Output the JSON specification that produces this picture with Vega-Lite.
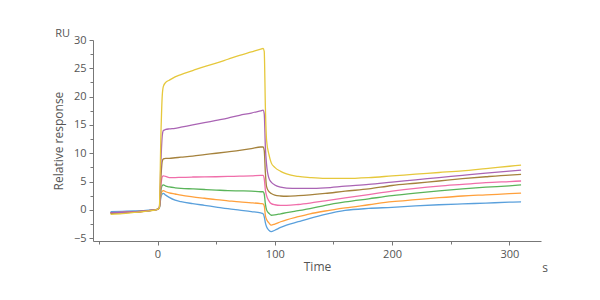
{
  "$schema": "https://vega.github.io/schema/vega-lite/v6.json",
  "autosize": "none",
  "width": 448,
  "height": 201,
  "padding": {"left": 93, "top": 40, "right": 59, "bottom": 59},
  "background": "white",
  "config": {
    "view": {"stroke": null},
    "font": "Open Sans",
    "axis": {"grid": false, "domainColor": "#777", "tickColor": "#777", "labelColor": "#555", "titleColor": "#555", "labelFont": "Open Sans", "titleFont": "Open Sans", "labelFontSize": 11, "titleFontSize": 12, "titleFontWeight": "normal", "tickSize": 4, "labelPadding": 3}
  },
  "resolve": {"axis": {"x": "independent", "y": "independent"}},
  "datasets": {
    "curves": [
      {"t":-40,"s":"a","v":-0.3},{"t":-30,"s":"a","v":-0.25},{"t":-20,"s":"a","v":-0.2},{"t":-10,"s":"a","v":-0.1},{"t":0,"s":"a","v":0.1},{"t":1.5,"s":"a","v":0.3},{"t":3,"s":"a","v":2.3},{"t":4,"s":"a","v":2.8},{"t":5,"s":"a","v":2.9},{"t":7,"s":"a","v":2.6},{"t":10,"s":"a","v":2.2},{"t":15,"s":"a","v":1.7},{"t":20,"s":"a","v":1.45},{"t":30,"s":"a","v":1.1},{"t":40,"s":"a","v":0.8},{"t":50,"s":"a","v":0.5},{"t":60,"s":"a","v":0.2},{"t":70,"s":"a","v":-0.05},{"t":80,"s":"a","v":-0.3},{"t":88,"s":"a","v":-0.55},{"t":90,"s":"a","v":-0.7},{"t":91,"s":"a","v":-1.2},{"t":92,"s":"a","v":-2.3},{"t":93,"s":"a","v":-3.0},{"t":95,"s":"a","v":-3.6},{"t":97,"s":"a","v":-3.85},{"t":100,"s":"a","v":-3.6},{"t":105,"s":"a","v":-3.1},{"t":110,"s":"a","v":-2.7},{"t":120,"s":"a","v":-2.1},{"t":130,"s":"a","v":-1.5},{"t":143,"s":"a","v":-0.8},{"t":160,"s":"a","v":-0.1},{"t":180,"s":"a","v":0.25},{"t":200,"s":"a","v":0.45},{"t":220,"s":"a","v":0.7},{"t":240,"s":"a","v":0.9},{"t":260,"s":"a","v":1.05},{"t":280,"s":"a","v":1.2},{"t":300,"s":"a","v":1.35},{"t":310,"s":"a","v":1.4},
      {"t":-40,"s":"b","v":-0.6},{"t":-30,"s":"b","v":-0.5},{"t":-20,"s":"b","v":-0.4},{"t":-10,"s":"b","v":-0.2},{"t":0,"s":"b","v":0.1},{"t":1.5,"s":"b","v":0.3},{"t":3,"s":"b","v":2.8},{"t":4,"s":"b","v":3.3},{"t":5,"s":"b","v":3.4},{"t":7,"s":"b","v":3.2},{"t":10,"s":"b","v":3.0},{"t":15,"s":"b","v":2.8},{"t":20,"s":"b","v":2.6},{"t":30,"s":"b","v":2.3},{"t":40,"s":"b","v":2.05},{"t":50,"s":"b","v":1.8},{"t":60,"s":"b","v":1.6},{"t":70,"s":"b","v":1.4},{"t":80,"s":"b","v":1.25},{"t":88,"s":"b","v":1.1},{"t":90,"s":"b","v":1.05},{"t":91,"s":"b","v":0.7},{"t":92,"s":"b","v":-1.0},{"t":93,"s":"b","v":-1.7},{"t":95,"s":"b","v":-2.3},{"t":97,"s":"b","v":-2.7},{"t":100,"s":"b","v":-2.5},{"t":105,"s":"b","v":-2.1},{"t":110,"s":"b","v":-1.75},{"t":120,"s":"b","v":-1.2},{"t":130,"s":"b","v":-0.7},{"t":143,"s":"b","v":-0.2},{"t":160,"s":"b","v":0.35},{"t":180,"s":"b","v":0.9},{"t":200,"s":"b","v":1.45},{"t":220,"s":"b","v":1.8},{"t":240,"s":"b","v":2.15},{"t":260,"s":"b","v":2.45},{"t":280,"s":"b","v":2.65},{"t":300,"s":"b","v":2.85},{"t":310,"s":"b","v":2.95},
      {"t":-40,"s":"c","v":-0.5},{"t":-30,"s":"c","v":-0.45},{"t":-20,"s":"c","v":-0.35},{"t":-10,"s":"c","v":-0.2},{"t":0,"s":"c","v":0.1},{"t":1.5,"s":"c","v":0.3},{"t":3,"s":"c","v":3.5},{"t":4,"s":"c","v":4.3},{"t":5,"s":"c","v":4.4},{"t":7,"s":"c","v":4.2},{"t":10,"s":"c","v":4.05},{"t":15,"s":"c","v":3.9},{"t":20,"s":"c","v":3.8},{"t":30,"s":"c","v":3.7},{"t":40,"s":"c","v":3.6},{"t":50,"s":"c","v":3.5},{"t":60,"s":"c","v":3.4},{"t":70,"s":"c","v":3.35},{"t":80,"s":"c","v":3.3},{"t":88,"s":"c","v":3.2},{"t":90,"s":"c","v":3.2},{"t":91,"s":"c","v":2.8},{"t":92,"s":"c","v":1.0},{"t":93,"s":"c","v":0.0},{"t":95,"s":"c","v":-0.6},{"t":97,"s":"c","v":-0.95},{"t":100,"s":"c","v":-0.9},{"t":105,"s":"c","v":-0.7},{"t":110,"s":"c","v":-0.5},{"t":120,"s":"c","v":-0.15},{"t":130,"s":"c","v":0.2},{"t":143,"s":"c","v":0.8},{"t":160,"s":"c","v":1.4},{"t":180,"s":"c","v":1.95},{"t":200,"s":"c","v":2.5},{"t":220,"s":"c","v":2.95},{"t":240,"s":"c","v":3.35},{"t":260,"s":"c","v":3.7},{"t":280,"s":"c","v":4.0},{"t":300,"s":"c","v":4.25},{"t":310,"s":"c","v":4.4},
      {"t":-40,"s":"d","v":-0.5},{"t":-30,"s":"d","v":-0.4},{"t":-20,"s":"d","v":-0.35},{"t":-10,"s":"d","v":-0.2},{"t":0,"s":"d","v":0.1},{"t":1.5,"s":"d","v":0.3},{"t":3,"s":"d","v":4.5},{"t":4,"s":"d","v":5.8},{"t":5,"s":"d","v":6.0},{"t":7,"s":"d","v":5.9},{"t":10,"s":"d","v":5.7},{"t":15,"s":"d","v":5.7},{"t":20,"s":"d","v":5.75},{"t":30,"s":"d","v":5.8},{"t":40,"s":"d","v":5.82},{"t":50,"s":"d","v":5.85},{"t":60,"s":"d","v":5.9},{"t":70,"s":"d","v":5.95},{"t":80,"s":"d","v":6.0},{"t":88,"s":"d","v":6.1},{"t":90,"s":"d","v":6.1},{"t":91,"s":"d","v":5.5},{"t":92,"s":"d","v":3.5},{"t":93,"s":"d","v":2.5},{"t":95,"s":"d","v":1.6},{"t":97,"s":"d","v":1.1},{"t":100,"s":"d","v":0.9},{"t":105,"s":"d","v":0.8},{"t":110,"s":"d","v":0.8},{"t":120,"s":"d","v":0.95},{"t":130,"s":"d","v":1.2},{"t":143,"s":"d","v":1.6},{"t":160,"s":"d","v":2.1},{"t":180,"s":"d","v":2.7},{"t":200,"s":"d","v":3.3},{"t":220,"s":"d","v":3.8},{"t":240,"s":"d","v":4.2},{"t":260,"s":"d","v":4.5},{"t":280,"s":"d","v":4.8},{"t":300,"s":"d","v":5.0},{"t":310,"s":"d","v":5.1},
      {"t":-40,"s":"e","v":-0.6},{"t":-30,"s":"e","v":-0.5},{"t":-20,"s":"e","v":-0.4},{"t":-10,"s":"e","v":-0.2},{"t":0,"s":"e","v":0.1},{"t":1.5,"s":"e","v":0.3},{"t":3,"s":"e","v":6.0},{"t":4,"s":"e","v":8.5},{"t":5,"s":"e","v":9.0},{"t":7,"s":"e","v":9.1},{"t":10,"s":"e","v":9.1},{"t":15,"s":"e","v":9.2},{"t":20,"s":"e","v":9.3},{"t":30,"s":"e","v":9.5},{"t":40,"s":"e","v":9.75},{"t":50,"s":"e","v":10.0},{"t":60,"s":"e","v":10.25},{"t":70,"s":"e","v":10.5},{"t":80,"s":"e","v":10.8},{"t":88,"s":"e","v":11.1},{"t":90,"s":"e","v":11.1},{"t":91,"s":"e","v":10.5},{"t":92,"s":"e","v":6.5},{"t":93,"s":"e","v":4.1},{"t":95,"s":"e","v":3.2},{"t":97,"s":"e","v":2.9},{"t":100,"s":"e","v":2.6},{"t":105,"s":"e","v":2.45},{"t":110,"s":"e","v":2.4},{"t":120,"s":"e","v":2.5},{"t":130,"s":"e","v":2.65},{"t":143,"s":"e","v":2.9},{"t":160,"s":"e","v":3.3},{"t":180,"s":"e","v":3.7},{"t":200,"s":"e","v":4.3},{"t":220,"s":"e","v":4.7},{"t":240,"s":"e","v":5.1},{"t":260,"s":"e","v":5.5},{"t":280,"s":"e","v":5.85},{"t":300,"s":"e","v":6.15},{"t":310,"s":"e","v":6.25},
      {"t":-40,"s":"f","v":-0.5},{"t":-30,"s":"f","v":-0.45},{"t":-20,"s":"f","v":-0.35},{"t":-10,"s":"f","v":-0.2},{"t":0,"s":"f","v":0.1},{"t":1.5,"s":"f","v":0.3},{"t":3,"s":"f","v":9.0},{"t":4,"s":"f","v":13.0},{"t":5,"s":"f","v":14.0},{"t":7,"s":"f","v":14.2},{"t":10,"s":"f","v":14.3},{"t":15,"s":"f","v":14.4},{"t":20,"s":"f","v":14.6},{"t":30,"s":"f","v":15.0},{"t":40,"s":"f","v":15.4},{"t":50,"s":"f","v":15.8},{"t":60,"s":"f","v":16.2},{"t":70,"s":"f","v":16.7},{"t":80,"s":"f","v":17.1},{"t":88,"s":"f","v":17.5},{"t":90,"s":"f","v":17.6},{"t":91,"s":"f","v":17.0},{"t":92,"s":"f","v":11.0},{"t":93,"s":"f","v":8.0},{"t":95,"s":"f","v":5.6},{"t":97,"s":"f","v":4.9},{"t":100,"s":"f","v":4.4},{"t":105,"s":"f","v":4.0},{"t":110,"s":"f","v":3.85},{"t":120,"s":"f","v":3.8},{"t":130,"s":"f","v":3.8},{"t":143,"s":"f","v":3.9},{"t":160,"s":"f","v":4.2},{"t":180,"s":"f","v":4.5},{"t":200,"s":"f","v":4.9},{"t":220,"s":"f","v":5.3},{"t":240,"s":"f","v":5.7},{"t":260,"s":"f","v":6.1},{"t":280,"s":"f","v":6.5},{"t":300,"s":"f","v":6.85},{"t":310,"s":"f","v":7.0},
      {"t":-40,"s":"g","v":-0.8},{"t":-30,"s":"g","v":-0.65},{"t":-20,"s":"g","v":-0.45},{"t":-10,"s":"g","v":-0.25},{"t":0,"s":"g","v":0.1},{"t":1.5,"s":"g","v":0.3},{"t":3,"s":"g","v":14.0},{"t":4,"s":"g","v":20.0},{"t":5,"s":"g","v":21.8},{"t":7,"s":"g","v":22.5},{"t":10,"s":"g","v":22.9},{"t":15,"s":"g","v":23.5},{"t":20,"s":"g","v":23.9},{"t":30,"s":"g","v":24.6},{"t":40,"s":"g","v":25.3},{"t":50,"s":"g","v":25.9},{"t":60,"s":"g","v":26.6},{"t":70,"s":"g","v":27.3},{"t":80,"s":"g","v":27.9},{"t":88,"s":"g","v":28.4},{"t":90,"s":"g","v":28.5},{"t":91,"s":"g","v":28.0},{"t":92,"s":"g","v":18.0},{"t":93,"s":"g","v":12.3},{"t":95,"s":"g","v":9.8},{"t":97,"s":"g","v":8.3},{"t":100,"s":"g","v":7.5},{"t":105,"s":"g","v":6.8},{"t":110,"s":"g","v":6.35},{"t":120,"s":"g","v":5.9},{"t":130,"s":"g","v":5.7},{"t":143,"s":"g","v":5.55},{"t":160,"s":"g","v":5.55},{"t":180,"s":"g","v":5.7},{"t":200,"s":"g","v":6.0},{"t":220,"s":"g","v":6.3},{"t":240,"s":"g","v":6.6},{"t":260,"s":"g","v":6.9},{"t":280,"s":"g","v":7.3},{"t":300,"s":"g","v":7.7},{"t":310,"s":"g","v":7.9}
    ],
    "units": [{"label": "RU", "t": -55, "v": 30}],
    "xunit": [{"label": "s", "t": 327, "v": -5.5}]
  },
  "layer": [
    {
      "data": {"name": "curves"},
      "mark": {"type": "line", "strokeWidth": 1.3, "interpolate": "monotone"},
      "encoding": {
        "x": {"field": "t", "type": "quantitative", "scale": {"domain": [-55, 327], "nice": false, "zero": false},
          "axis": {"title": "Time", "values": [0, 100, 200, 300], "labelOverlap": false, "titlePadding": 2}},
        "y": {"field": "v", "type": "quantitative", "scale": {"domain": [-5.5, 30], "nice": false, "zero": false},
          "axis": {"title": "Relative response", "values": [-5, 0, 5, 10, 15, 20, 25, 30], "labelOverlap": false, "labelFlush": false, "titlePadding": 8}},
        "color": {"field": "s", "type": "nominal", "legend": null,
          "scale": {"domain": ["a", "b", "c", "d", "e", "f", "g"], "range": ["#5aa0dc", "#ffa03c", "#5ab45a", "#f06eaa", "#a5823c", "#aa64b4", "#e6c83c"]}}
      }
    },
    {
      "data": {"name": "units"},
      "mark": {"type": "text", "align": "right", "baseline": "bottom", "dx": -23, "dy": -1, "fontSize": 11, "fill": "#555", "font": "Open Sans", "clip": false},
      "encoding": {"text": {"field": "label"},
        "x": {"field": "t", "type": "quantitative", "axis": {"orient": "bottom", "title": null, "labels": false, "domain": false, "tickSize": 3, "values": [-50, 50, 150, 250]}},
        "y": {"field": "v", "type": "quantitative", "axis": {"orient": "left", "title": null, "labels": false, "domain": false, "tickSize": 3, "values": [-2.5, 2.5, 7.5, 12.5, 17.5, 22.5, 27.5]}}}
    },
    {
      "data": {"name": "xunit"},
      "mark": {"type": "text", "align": "center", "baseline": "middle", "dx": 4, "dy": 27, "fontSize": 12, "fill": "#555", "font": "Open Sans", "clip": false},
      "encoding": {"text": {"field": "label"}, "x": {"field": "t", "type": "quantitative", "axis": null}, "y": {"field": "v", "type": "quantitative", "axis": null}}
    }
  ]
}
